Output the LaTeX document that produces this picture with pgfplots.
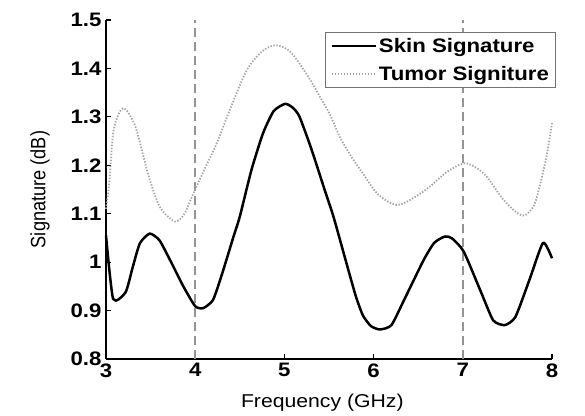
\documentclass[border=0pt]{standalone}
\usepackage{pgfplots}
\pgfplotsset{compat=1.18}
\usepackage{fontspec}
\setmainfont{Liberation Sans}
\newfontfamily\wsans[FakeStretch=1.14]{Liberation Sans}
\begin{document}
\begin{tikzpicture}
\useasboundingbox (-106pt,-56pt) rectangle (479pt,359pt);
\begin{axis}[
  anchor=south west, at={(0pt,0pt)},
  scale only axis, width=446pt, height=339pt,
  xmin=3, xmax=8, ymin=0.8, ymax=1.5,
  axis x line*=bottom, axis y line*=left,
  axis line style={line width=1.4pt, black},
  tick style={line width=1.2pt, black},
  major tick length=5pt, tick align=inside,
  xtick={3,4,5,6,7,8}, xticklabels={3,4,5,6,7,8},
  ytick={0.8,0.9,1,1.1,1.2,1.3,1.4,1.5},
  yticklabels={0.8,0.9,1,1.1,1.2,1.3,1.4,1.5},
  ticklabel style={font=\wsans\fontsize{19.5}{22}\selectfont\bfseries},
  xticklabel style={yshift=-1pt},
  yticklabel style={xshift=-1pt},
  legend style={at={(1.01,0.965)}, anchor=north east, draw=black!55, line width=1pt,
    fill=white, font=\wsans\fontsize{19.5}{22}\selectfont\bfseries,
    inner xsep=5pt, inner ysep=4pt, row sep=8pt},
  legend cell align=left,
  legend image code/.code={\draw[#1] (0pt,0pt) -- (44pt,0pt);},
  clip=false,
]
\addplot[forget plot, black!42, line width=2.4pt, dash pattern=on 9pt off 5pt] coordinates {(4,0.8) (4,1.5)};
\addplot[forget plot, black!42, line width=2.4pt, dash pattern=on 9pt off 5pt] coordinates {(7,0.8) (7,1.5)};
\addplot[black, line width=2.5pt, line join=round, smooth, tension=0.35] coordinates {
(3.00,1.055) (3.08,0.924) (3.22,0.938) (3.30,0.990) (3.38,1.039) (3.49,1.059)
(3.60,1.045) (3.73,1.000) (3.87,0.949) (4.00,0.909) (4.09,0.905) (4.20,0.922)
(4.30,0.975) (4.43,1.053) (4.50,1.094) (4.63,1.190) (4.76,1.266) (4.88,1.312)
(5.01,1.327) (5.10,1.318) (5.17,1.300) (5.30,1.235) (5.45,1.150) (5.55,1.094)
(5.70,0.995) (5.80,0.930) (5.88,0.890) (5.97,0.868) (6.07,0.861) (6.20,0.870)
(6.35,0.925) (6.56,1.004) (6.68,1.040) (6.80,1.053) (6.88,1.049) (7.01,1.022)
(7.20,0.940) (7.34,0.880) (7.47,0.870) (7.59,0.887) (7.75,0.965) (7.90,1.040)
(8.00,1.008)};
\addlegendentry{Skin Signature}
\addplot[black!35, line width=1.8pt, dash pattern=on 1.4pt off 1.6pt, smooth, tension=0.5] coordinates {
(3.00,1.110) (3.04,1.170) (3.08,1.266) (3.14,1.305) (3.21,1.317) (3.33,1.280)
(3.47,1.183) (3.60,1.115) (3.74,1.087) (3.80,1.085) (3.88,1.100) (3.98,1.142)
(4.10,1.190) (4.24,1.245) (4.40,1.320) (4.58,1.397) (4.75,1.435) (4.90,1.448)
(5.05,1.437) (5.17,1.410) (5.30,1.373) (5.40,1.341) (5.51,1.305) (5.62,1.259)
(5.75,1.218) (5.88,1.183) (6.05,1.140) (6.26,1.118) (6.45,1.133) (6.63,1.156)
(6.82,1.186) (7.01,1.204) (7.15,1.195) (7.27,1.176) (7.45,1.130) (7.60,1.103)
(7.70,1.097) (7.80,1.118) (7.87,1.163) (7.94,1.220) (8.00,1.287)};
\addlegendentry{Tumor Signiture}
\node[font=\wsans\fontsize{18.6}{21}\selectfont] at (axis description cs:0.485,-0.13) {Frequency (GHz)};
\node[rotate=90, font=\fontsize{18.2}{21}\selectfont] at (axis description cs:-0.148,0.5) {\scalebox{1}[1.14]{Signature (dB)}};
\end{axis}
\end{tikzpicture}
\end{document}
